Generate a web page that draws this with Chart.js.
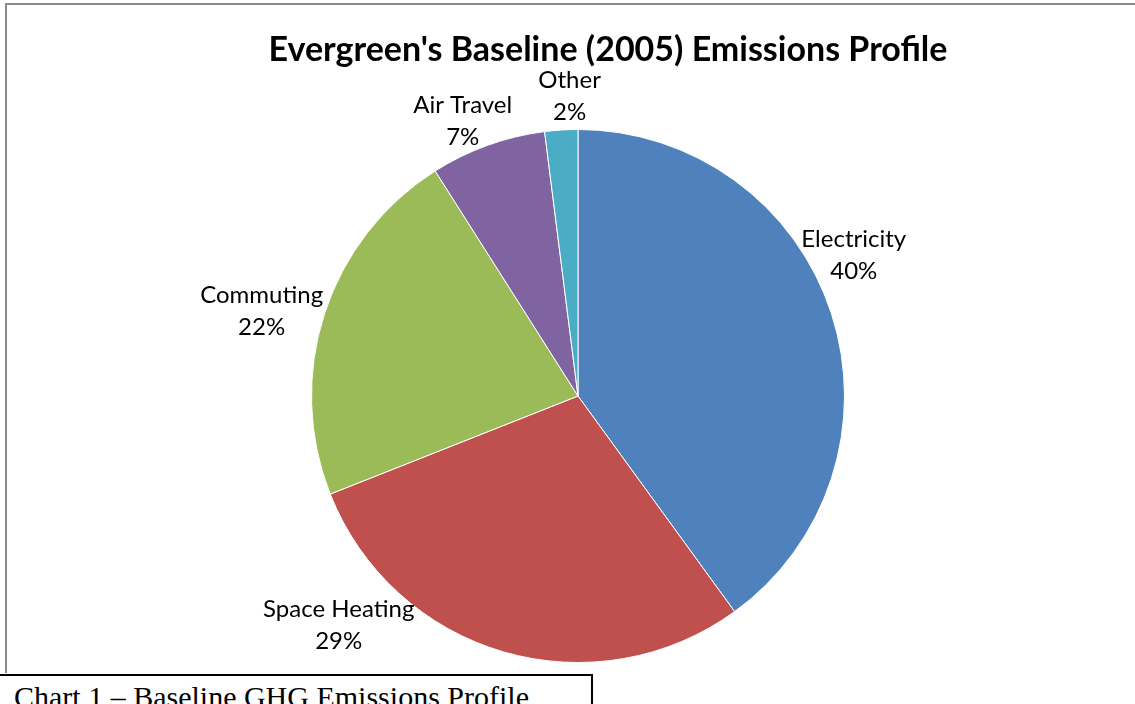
<!DOCTYPE html>
<html>
<head>
<meta charset="utf-8">
<script src="https://cdn.jsdelivr.net/npm/chart.js@4.4.1/dist/chart.umd.min.js"></script>
<style>
	html, body { margin: 0; padding: 0; background: #fff; overflow: hidden; width: 1135px; height: 704px; }
	#frame {
		position: absolute; left: 5px; top: 3px;
		width: 1202px; height: 668px;
		border-top: 2px solid #8a8a8a;
		border-left: 2px solid #8a8a8a;
	}
	#caption {
		position: absolute; left: -2px; top: 674px;
		width: 577px; height: 60px;
		border: 2px solid #000;
		padding-left: 14px;
		font-family: "Liberation Serif", "Times New Roman", serif;
		font-size: 30px; line-height: 42px;
		color: #000; background: #fff;
		white-space: nowrap;
	}
</style>
</head>
<body>
<div id="frame"><canvas id="pieChart"></canvas></div>
<div id="caption">Chart 1 – Baseline GHG Emissions Profile</div>
<script>
const title = "Evergreen's Baseline (2005) Emissions Profile";
const categories = ['Electricity', 'Space Heating', 'Commuting', 'Air Travel', 'Other'];
const shares = [40, 29, 22, 7, 2];
const colors = ['#4F81BD', '#C0504D', '#9BBB59', '#8064A2', '#4BACC6'];

// where each data label sits: degrees off the slice middle, px beyond the rim
const labelNudge = [[-9, 43], [30, 65], [-3, 61], [-3, 31], [2, 33]];

const labelFont = '24px Lato, "Open Sans", sans-serif';

const pieLabels = {
	id: 'pieLabels',
	afterDatasetsDraw(chart) {
		const ctx = chart.ctx;
		const meta = chart.getDatasetMeta(0);
		const values = chart.data.datasets[0].data;
		const total = values.reduce((a, b) => a + b, 0);
		ctx.save();
		ctx.fillStyle = '#000';
		ctx.textAlign = 'center';
		ctx.textBaseline = 'middle';

		// chart heading
		ctx.font = 'bold 34px Lato, "Open Sans", sans-serif';
		ctx.fillText(title, chart.width / 2, 45);

		ctx.font = labelFont;
		meta.data.forEach(function (arc, i) {
			const p = arc.getProps(['x', 'y', 'startAngle', 'endAngle', 'outerRadius'], true);
			const mid = (p.startAngle + p.endAngle) / 2 + labelNudge[i][0] * Math.PI / 180;
			const r = p.outerRadius + labelNudge[i][1];
			const x = p.x + Math.cos(mid) * r;
			const y = p.y + Math.sin(mid) * r;
			const pct = Math.round(values[i] / total * 100) + '%';
			ctx.fillText(chart.data.labels[i], x, y - 16);
			ctx.fillText(pct, x, y + 16);
		});
		ctx.restore();
	}
};

const data = {
	labels: categories,
	datasets: [{
		data: shares,
		backgroundColor: colors,
		borderColor: '#ffffff',
		borderWidth: 1,
		hoverOffset: 0
	}]
};

const config = {
	type: 'pie',
	data: data,
	options: {
		responsive: true,
		maintainAspectRatio: false,
		animation: false,
		layout: {
			padding: { top: 124, bottom: 10, left: 0, right: 60 }
		},
		plugins: {
			legend: { display: false },
			tooltip: { enabled: false },
			title: { display: false }
		}
	},
	plugins: [pieLabels]
};

const myChart = new Chart(document.getElementById('pieChart'), config);
</script>
</body>
</html>
